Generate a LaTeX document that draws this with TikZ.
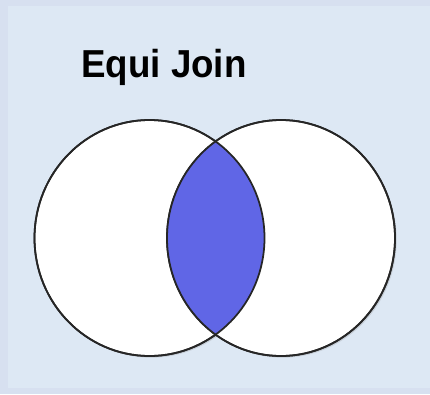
\documentclass[tikz,border=0pt]{standalone}
\usepackage{fontspec}
\setmainfont{Liberation Sans}
\usetikzlibrary{shadows}
\definecolor{joinframe}{RGB}{215,224,240}
\definecolor{joinpaper}{RGB}{221,232,244}
\definecolor{joinlens}{RGB}{96,102,230}

\begin{document}
\begin{tikzpicture}[
  x=0.03cm, y=-0.03cm,
  settable/.style={draw=black!85,line width=1.5pt,fill=white,
    drop shadow={shadow xshift=1.4pt,shadow yshift=-1.4pt,opacity=.25}},
  lensborder/.style={draw=black!85,line width=1.5pt}
]
% page and frame
\fill[joinframe] (0,0) rectangle (430,394);
\fill[joinpaper] (8,6) rectangle (430,388);
\useasboundingbox (0,0) rectangle (430,394);

\node[font=\bfseries\fontsize{32}{38}\selectfont,anchor=base west,inner sep=0pt,
  yscale=1.04,xscale=0.98] (title) at (81,77) {Equi Join};

% the two tables
\coordinate (lc) at (149.5,238);
\coordinate (rc) at (281,238);
\path[settable] (lc) ellipse [x radius=115, y radius=118];
\path[settable] (rc) ellipse [x radius=114, y radius=118];

% matching rows
\begin{scope}
  \clip (lc) ellipse [x radius=115, y radius=118];
  \fill[joinlens] (rc) ellipse [x radius=114, y radius=118];
\end{scope}
\draw[lensborder] (lc) ellipse [x radius=115, y radius=118];
\draw[lensborder] (rc) ellipse [x radius=114, y radius=118];
\end{tikzpicture}
\end{document}
